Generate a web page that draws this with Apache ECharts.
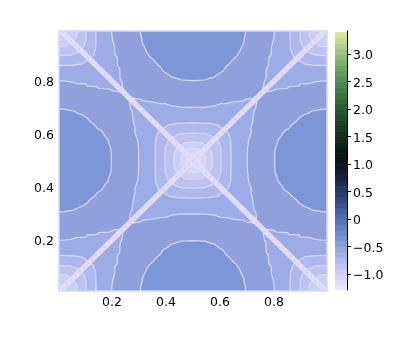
<!DOCTYPE html>
<html><head><meta charset="utf-8">
<style>html,body{margin:0;padding:0;background:#fff}#c{width:399px;height:342px}</style>
<script src="https://cdn.jsdelivr.net/npm/echarts@6/dist/echarts.min.js"></script>
</head><body><div id="c"></div>
<script>
const xTicks = [0.2, 0.4, 0.6, 0.8];
const yTicks = [0.2, 0.4, 0.6, 0.8];
const barTicks = [-1, -0.5, 0, 0.5, 1, 1.5, 2, 2.5, 3];
const barLabels = {'-1':'\u22121.0','-0.5':'\u22120.5','0':'0','0.5':'0.5','1':'1.0','1.5':'1.5','2':'2.0','2.5':'2.5','3':'3.0'};
const barStart = -1.3, barStep = 0.1;
const barColors = ['#e9e3fd','#e0dcfb','#d6d5f8','#cbcdf5','#bec4f0','#b1bbeb','#a3b1e5','#96a7e0','#8a9ddb','#7c94d4','#6f89cc','#647ec3','#5873b9','#4d68ad','#445ca0','#3b5190','#34477f','#2d3d6e','#27355e','#212c4d','#1b243d','#161d2f','#121823','#0f141a','#0e1515','#0f1a15','#112218','#132a1b','#16331f','#193b23','#1d4427','#214c2b','#265630','#2b5f35','#31693a','#387340','#407d47','#4a874e','#559056','#5e9c59','#6ca762','#7cb16b','#8dba74','#9ec47d','#b2d087','#c6da90','#dbe59a'];

// contours: [distance from the edge's midpoint, depth from that edge]
const blobInner = [[.194,0],[.194,.02],[.19,.04],[.187,.058],[.178,.075],[.172,.09],[.16,.108],[.148,.118],[.135,.134],[.122,.145],[.111,.162],[.095,.172],[.08,.184],[.06,.19],[.043,.196],[0,.198]];
const blobOuter = [[.301,0],[.301,.019],[.298,.045],[.29,.072],[.289,.102],[.281,.109],[.279,.143],[.272,.151],[.27,.189],[.263,.204],[.259,.234],[.248,.253],[.222,.265],[.196,.268],[.185,.275],[.148,.279],[.122,.285],[.104,.285],[.078,.294],[.048,.298],[0,.299]];
// rounded squares around centre and corners, one quadrant: [dx, dy]
const ring1 = [[.141,0],[.140,.05],[.139,.08],[.13,.105],[.115,.118],[.09,.135],[.06,.14],[0,.142]];
const ring2 = [[.104,0],[.103,.045],[.095,.07],[.075,.09],[.045,.102],[0,.104]];
const ring3 = [[.072,0],[.07,.03],[.055,.052],[.03,.068],[0,.07]];
const ring4 = [[.047,0],[.045,.02],[.034,.035],[.02,.045],[0,.047]];
const ring5 = [[.029,0],[.027,.012],[.02,.022],[.01,.028],[0,.029]];
const diagHalf = 0.014;
const colStar = '#9dabe6', colOuter = '#8fa0dc', colInner = '#7d96d5';
const ringColors = ['#aeb8ec','#bcc3f0','#cacff5','#d8d9f9','#e3e0fb'];
const lineCol = '#d6d9f9', frameCol = '#d8d5f9', stripCol = '#e1ddfb', dotCol = '#cdc9f3';

function blob(c, side){
  const half = c.concat(); const full = [];
  half.forEach(p => full.push([-p[0], p[1]]));
  half.slice().reverse().forEach(p => full.push([p[0], p[1]]));
  return full.map(([a,d]) => side==='t' ? [.5+a,1-d] : side==='b' ? [.5+a,d] : side==='l' ? [d,.5+a] : [1-d,.5+a]);
}
function ring(q, cx, cy){
  const pts = [];
  q.forEach(p => pts.push([cx+p[0], cy+p[1]]));
  q.slice().reverse().forEach(p => pts.push([cx-p[0], cy+p[1]]));
  q.forEach(p => pts.push([cx-p[0], cy-p[1]]));
  q.slice().reverse().forEach(p => pts.push([cx+p[0], cy-p[1]]));
  return pts;
}
const shapes = [];
function add(points, fill, stroke, w){ shapes.push({points, fill, stroke, w}); }
add([[0,0],[1,0],[1,1],[0,1]], colStar, null, 0);
['t','b','l','r'].forEach(s => add(blob(blobOuter,s), colOuter, lineCol, 1.2));
['t','b','l','r'].forEach(s => add(blob(blobInner,s), colInner, lineCol, 1.2));
[ring1,ring2,ring3,ring4,ring5].forEach((q,i) => add(ring(q,.5,.5), ringColors[i], lineCol, 1.2));
[[0,0],[1,0],[0,1],[1,1]].forEach(([cx,cy]) => {
  [ring1,ring2,ring3,ring5].forEach((q,i) => add(ring(q,cx,cy), ringColors[i], lineCol, 1.2));
});
add([[-diagHalf,0],[diagHalf,0],[1+diagHalf,1],[1-diagHalf,1]], stripCol, null, 0);
add([[-diagHalf,1],[diagHalf,1],[1+diagHalf,0],[1-diagHalf,0]], stripCol, null, 0);

const dotLines = [[[0,0],[1,1]],[[0,1],[1,0]]];
const frame = [[0.0037,0.0075],[0.996,0.0075],[0.996,0.989],[0.0037,0.989],[0.0037,0.0075]];

const font = {fontFamily:'DejaVu Sans', fontSize:12.5, color:'#000'};
const shifted = {t:Object.assign({padding:[4,0,0,0]}, font)};
const chart = echarts.init(document.getElementById('c'), null, {renderer:'canvas', width:399, height:342});
chart.setOption({
  animation:false,
  backgroundColor:'#fff',
  grid:[
    {left:59, top:31, width:268, height:260},
    {left:335, top:31, width:12, height:259}
  ],
  xAxis:[
    {type:'value', gridIndex:0, min:0.0037, max:0.996, splitLine:{show:false}, axisLine:{show:false}, axisTick:{show:false},
     axisLabel:Object.assign({margin:5, customValues:xTicks, formatter:v=>v.toFixed(1)}, font)},
    {type:'value', gridIndex:1, min:0, max:1, show:false}
  ],
  yAxis:[
    {type:'value', gridIndex:0, min:0.0075, max:0.989, splitLine:{show:false}, axisLine:{show:false}, axisTick:{show:false},
     axisLabel:Object.assign({margin:5, customValues:yTicks, formatter:v=>'{t|'+v.toFixed(1)+'}', rich:shifted}, font)},
    {type:'value', gridIndex:1, position:'right', min:-1.29, max:3.42, splitLine:{show:false},
     axisLine:{show:true, onZero:false, lineStyle:{color:'#000', width:1}},
     axisTick:{show:true, length:4, customValues:barTicks, lineStyle:{color:'#000', width:1}},
     axisLabel:Object.assign({margin:6, customValues:barTicks, formatter:v=>'{t|'+barLabels[String(v)]+'}', rich:shifted}, font)}
  ],
  series:[
    {type:'custom', xAxisIndex:0, yAxisIndex:0, clip:true, silent:true,
     data:shapes.map((s,i)=>[i]),
     renderItem:(params, api)=>{
       const s = shapes[api.value(0)];
       return {type:'polygon', shape:{points:s.points.map(p=>api.coord(p))},
         style:{fill:s.fill, stroke:s.stroke||null, lineWidth:s.w, lineJoin:'round'}};
     }},
    {type:'custom', xAxisIndex:0, yAxisIndex:0, clip:true, silent:true,
     data:dotLines.map((s,i)=>[i]),
     renderItem:(params, api)=>{
       const s = dotLines[api.value(0)];
       return {type:'polyline', shape:{points:s.map(p=>api.coord(p))},
         style:{fill:null, stroke:dotCol, lineWidth:1.4, lineDash:[1.4,4.5]}};
     }},
    {type:'custom', xAxisIndex:0, yAxisIndex:0, clip:false, silent:true,
     data:[[0]],
     renderItem:(params, api)=>({type:'polyline', shape:{points:frame.map(p=>api.coord(p))},
         style:{fill:null, stroke:frameCol, lineWidth:1.5}})},
    {type:'custom', xAxisIndex:1, yAxisIndex:1, clip:true, silent:true,
     data:barColors.map((c,i)=>[i]),
     renderItem:(params, api)=>{
       const i = api.value(0);
       const lo = barStart + i*barStep, hi = lo + barStep;
       const a = api.coord([0,lo]), b = api.coord([1,hi]);
       return {type:'rect', shape:{x:a[0], y:b[1], width:b[0]-a[0], height:a[1]-b[1]+0.5},
         style:{fill:barColors[i]}};
     }}
  ]
});
</script></body></html>
